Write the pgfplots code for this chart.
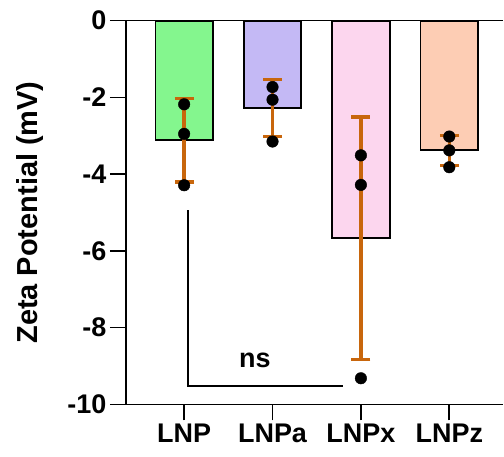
\documentclass[border=0pt]{standalone}
\usepackage{pgfplots}
\pgfplotsset{compat=1.18}
\usepackage{fontspec}
\setmainfont{Liberation Sans}
\definecolor{cgreen}{RGB}{132,246,142}
\definecolor{cpurple}{RGB}{196,185,245}
\definecolor{cpink}{RGB}{252,214,238}
\definecolor{cpeach}{RGB}{253,205,180}
\definecolor{corange}{RGB}{200,102,12}
\begin{document}
\begin{tikzpicture}
\begin{axis}[
  name=main,
  at={(0,0)}, anchor=south west,
  scale only axis, width=378pt, height=384.3pt,
  xmin=-0.66, xmax=3.61, ymin=-10, ymax=0,
  axis lines=left,
  axis line style={-, line width=1.6pt},
  clip=false,
  xtick={0,1,2,3}, xticklabels={LNP,LNPa,LNPx,LNPz},
  ytick={-10,-8,-6,-4,-2,0}, yticklabels={-10,-8,-6,-4,-2,0},
  tick align=outside,
  major tick length=16pt,
  tick style={line width=1.6pt, black},
  ticklabel style={font=\fontsize{27}{27}\selectfont\bfseries},
  ylabel={Zeta Potential (mV)},
  every axis y label/.style={at={(axis description cs:-0.254,0.5)}, rotate=90, anchor=center, font=\fontsize{29}{29}\selectfont\bfseries},
]
% zero line
\addplot[black, line width=1.6pt] coordinates {(-0.66,0) (3.61,0)};
% bars
\addplot[ybar, bar width=57.5pt, fill=cgreen, draw=black, line width=1.8pt] coordinates {(0,-3.12)};
\addplot[ybar, bar width=57.5pt, fill=cpurple, draw=black, line width=1.8pt] coordinates {(1,-2.28)};
\addplot[ybar, bar width=57.5pt, fill=cpink, draw=black, line width=1.8pt] coordinates {(2,-5.67)};
\addplot[ybar, bar width=57.5pt, fill=cpeach, draw=black, line width=1.8pt] coordinates {(3,-3.38)};
% error bars
\addplot[draw=none, mark=none,
  error bars/.cd, y dir=both, y explicit,
  error bar style={line width=3.5pt, corange},
  error mark=|, error mark options={line width=3.5pt, corange, mark size=9.5pt}]
  coordinates {
   (0,-3.12) +- (0,1.09)
   (1,-2.28) +- (0,0.74)
   (2,-5.67) +- (0,3.16)
   (3,-3.38) +- (0,0.39)
  };
% points
\addplot[only marks, mark=*, mark size=5.8pt, black] coordinates {
  (0,-2.18) (0,-2.95) (0,-4.29)
  (1,-1.73) (1,-2.06) (1,-3.15)
  (2,-3.51) (2,-4.28) (2,-9.32)
  (3,-3.02) (3,-3.38) (3,-3.82)
};
% bracket
\addplot[black, line width=2.2pt] coordinates {(0.04,-4.94) (0.04,-9.52) (1.80,-9.52)};
\node[font=\fontsize{27}{27}\selectfont\bfseries] at (axis cs:0.80,-8.85) {ns};
\end{axis}
% tick marks drawn after the axis, from the axis corner
\foreach \k in {0,1,2,3,4,5}{
  \draw[black, line width=1.6pt, line cap=butt] ([yshift=\k*76.86pt]main.south west) -- ++(-16pt,0pt);
}
\foreach \k in {0,1,2,3}{
  \draw[black, line width=1.6pt, line cap=butt] ([xshift=58.43pt+\k*88.52pt]main.south west) -- ++(0pt,-15pt);
}
\path (-126pt,-52pt) rectangle (378pt,405pt);
\end{tikzpicture}
\end{document}
